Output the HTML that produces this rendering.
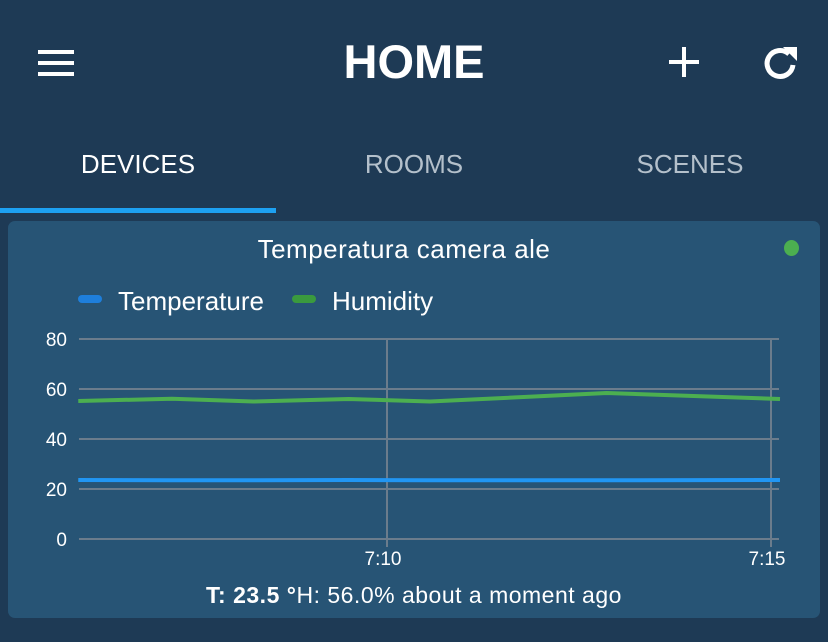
<!DOCTYPE html>
<html><head><meta charset="utf-8"><style>
body{margin:0;width:828px;height:642px;background:#1e3a55;font-family:"Liberation Sans",sans-serif;color:#fff;overflow:hidden;position:relative}
.abs{position:absolute}
</style></head><body>
<div class="abs" style="left:38px;top:50px;width:36px;height:26px">
 <div style="position:absolute;top:0;width:36px;height:4px;background:#fff"></div>
 <div style="position:absolute;top:11px;width:36px;height:4px;background:#fff"></div>
 <div style="position:absolute;top:22px;width:36px;height:4px;background:#fff"></div>
</div>
<div class="abs" style="left:0;width:828px;top:36px;text-align:center;font-size:47px;font-weight:bold;line-height:52px">HOME</div>
<div class="abs" style="left:669px;top:47px;width:30px;height:30px">
 <div style="position:absolute;left:13px;top:0;width:4px;height:30px;background:#fff"></div>
 <div style="position:absolute;left:0;top:13px;width:30px;height:4px;background:#fff"></div>
</div>
<svg class="abs" style="left:762px;top:44px" width="36" height="36" viewBox="0 0 36 36">
 <path d="M27 10 A13 13 0 1 0 31 21" fill="none" stroke="#fff" stroke-width="5"/>
 <polygon points="21,3 35,3 35,17" fill="#fff"/>
</svg>
<div class="abs" style="left:0;width:276px;top:149px;text-align:center;font-size:26px;color:#fff">DEVICES</div>
<div class="abs" style="left:276px;width:276px;top:149px;text-align:center;font-size:26px;color:#b4c0cb">ROOMS</div>
<div class="abs" style="left:552px;width:276px;top:149px;text-align:center;font-size:26px;color:#b4c0cb">SCENES</div>
<div class="abs" style="left:0;top:208px;width:276px;height:5px;background:#1da1f2"></div>
<div class="abs" style="left:8px;top:221px;width:812px;height:397px;background:#275475;border-radius:7px">
 <div class="abs" style="left:0;width:792px;top:13px;text-align:center;font-size:26px;letter-spacing:0.5px">Temperatura camera ale</div>
 <div class="abs" style="left:776px;top:19px;width:15px;height:16px;border-radius:50%;background:#4caf50"></div>
 <div class="abs" style="left:0;width:812px;top:361px;text-align:center;font-size:23px;letter-spacing:0.5px"><b>T: 23.5 °</b>H: 56.0% about a moment ago</div>
</div>
<svg class="abs" id="chart" style="left:0;top:0" width="828" height="642"></svg>
<script>
const yTicks=[0,20,40,60,80];
const xTickLabels=["7:10","7:15"];
const xTickMins=[0,5];
const times=[-4.02,-2.8,-1.74,-0.5,0.56,2.86,5.12];
const temperature=[23.6,23.5,23.5,23.6,23.5,23.5,23.6];
const humidity=[55.2,56.1,55,56,55,58.4,56];
const NS="http://www.w3.org/2000/svg";
const svg=document.getElementById('chart');
const X=m=>387+m*76.8, Y=v=>539-v*2.5;
function mk(t,a){const e=document.createElementNS(NS,t);for(const k in a)e.setAttribute(k,a[k]);svg.appendChild(e);return e;}
yTicks.forEach(v=>{
 const l=mk('line',{x1:79,x2:779,y1:Y(v),y2:Y(v),stroke:'#6b7c8c','stroke-width':2});
 
 
 const t=mk('text',{x:67,y:Y(v)+7,'text-anchor':'end','font-size':19,fill:'#fff','font-family':'Liberation Sans'});
 t.textContent=v;
 
 
});
xTickMins.forEach((m,i)=>{
 const l=mk('line',{x1:X(m),x2:X(m),y1:339,y2:547,stroke:'#6b7c8c','stroke-width':2});
 
 
 const t=mk('text',{x:X(m)-4,y:565,'text-anchor':'middle','font-size':19,fill:'#fff','font-family':'Liberation Sans'});
 t.textContent=xTickLabels[i];
 
 
});
function series(vals,color,name){
 const pts=times.map((m,i)=>Math.min(780,Math.max(78,X(m)))+','+Y(vals[i])).join(' ');
 const p=mk('polyline',{points:pts,fill:'none',stroke:color,'stroke-width':4,'stroke-linejoin':'round'});
 
 
}
series(humidity,'#4caf50','humidity-line');
series(temperature,'#2196f3','temperature-line');
const legend=[['Temperature','#1e7fdc',78,118],['Humidity','#3a9a3e',292,332]];
legend.forEach(([n,c,sx,tx])=>{
 const r=mk('rect',{x:sx,y:295,width:24,height:8,rx:4,fill:c});
 
 
 const t=mk('text',{x:tx,y:310,'font-size':26,fill:'#fff','font-family':'Liberation Sans'});
 t.textContent=n;
 
 
});
</script>
</body></html>
